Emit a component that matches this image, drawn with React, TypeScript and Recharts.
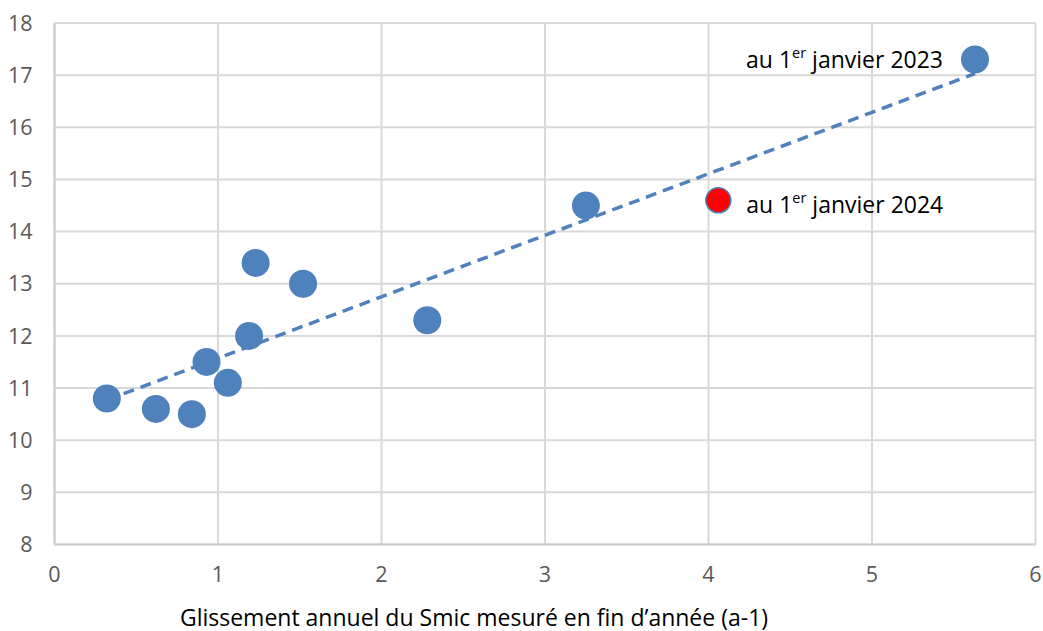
import React from 'react';
import {
  ScatterChart,
  Scatter,
  XAxis,
  YAxis,
  CartesianGrid,
} from 'recharts';

// Glissement annuel du Smic (a-1) vs. valeur
const glissement = [0.32, 0.62, 0.84, 0.93, 1.06, 1.19, 1.23, 1.52, 2.28, 3.25, 5.63];
const valeur = [10.8, 10.6, 10.5, 11.5, 11.1, 12.0, 13.4, 13.0, 12.3, 14.5, 17.3];
const pointLabels = ['', '', '', '', '', '', '', '', '', '', '2023'];

const redX = [4.06];
const redY = [14.6];
const redLabels = ['2024'];

// dashed trendline ends
const trendX = [0.32, 5.63];
const trendY = [10.77, 17.03];

const xTicks = [0, 1, 2, 3, 4, 5, 6];
const yTicks = [8, 9, 10, 11, 12, 13, 14, 15, 16, 17, 18];

const xTitle = 'Glissement annuel du Smic mesuré en fin d’année (a-1)';

const BLUE = '#4f81bd';
const FONT = '"Open Sans", "Noto Sans", sans-serif';

const mainData = glissement.map((x, i) => ({ x, y: valeur[i], label: pointLabels[i] }));
const redData = redX.map((x, i) => ({ x, y: redY[i], label: redLabels[i] }));
const trendData = trendX.map((x, i) => ({ x, y: trendY[i] }));

const YearLabel = ({ cx, cy, year, side }: { cx: number; cy: number; year: string; side: 'left' | 'right' }) => {
  const left = side === 'left';
  return (
    <text
      x={left ? cx - 32 : cx + 28}
      y={left ? cy + 8 : cy + 13}
      textAnchor={left ? 'end' : 'start'}
      fontFamily={FONT}
      fontSize={23}
      fill="#000"
    >
      au 1
      <tspan fontSize={14.5} dy={-10}>er</tspan>
      <tspan dy={10}> janvier {year}</tspan>
    </text>
  );
};

const BlueDot = (props: any) => {
  const { cx, cy, payload } = props;
  return (
    <g>
      <circle cx={cx} cy={cy} r={14} fill={BLUE} />
      {payload.label ? <YearLabel cx={cx} cy={cy} year={payload.label} side="left" /> : null}
    </g>
  );
};

const RedDot = (props: any) => {
  const { cx, cy, payload } = props;
  return (
    <g>
      <circle cx={cx} cy={cy} r={12.5} fill="#ff0000" stroke={BLUE} strokeWidth={1.5} />
      {payload.label ? <YearLabel cx={cx} cy={cy} year={payload.label} side="right" /> : null}
    </g>
  );
};

const XTitle = (props: any) => {
  const { viewBox } = props;
  return (
    <text
      x={474}
      y={viewBox.y + 81}
      textAnchor="middle"
      fontFamily={FONT}
      fontSize={23}
      fill="#000"
    >
      {xTitle}
    </text>
  );
};

export default function App() {
  return (
    <div style={{ width: 1043, height: 631, background: '#fff' }}>
      <style>{'body{margin:0;}'}</style>
      <ScatterChart
        width={1043}
        height={631}
        margin={{ top: 23, right: 7.5, left: 0, bottom: 46.5 }}
      >
        <CartesianGrid stroke="#d9d9d9" strokeWidth={2} />
        <XAxis
          type="number"
          dataKey="x"
          domain={[0, 6]}
          ticks={xTicks}
          height={40}
          axisLine={{ stroke: '#cccccc', strokeWidth: 2 }}
          tickLine={false}
          tickSize={0}
          tickMargin={22}
          tick={{ fontSize: 21.5, fill: '#595959', fontFamily: FONT }}
          label={<XTitle />}
        />
        <YAxis
          type="number"
          dataKey="y"
          domain={[8, 18]}
          ticks={yTicks}
          width={54.5}
          axisLine={{ stroke: '#cccccc', strokeWidth: 2 }}
          tickLine={false}
          tickSize={0}
          tickMargin={22}
          tick={{ fontSize: 21.5, fill: '#595959', fontFamily: FONT }}
        />
        <Scatter
          data={trendData}
          line={{ stroke: BLUE, strokeWidth: 3.5, strokeDasharray: '11 7' }}
          lineType="joint"
          shape={() => <g />}
          isAnimationActive={false}
        />
        <Scatter data={mainData} shape={BlueDot} isAnimationActive={false} />
        <Scatter data={redData} shape={RedDot} isAnimationActive={false} />
      </ScatterChart>
    </div>
  );
}
